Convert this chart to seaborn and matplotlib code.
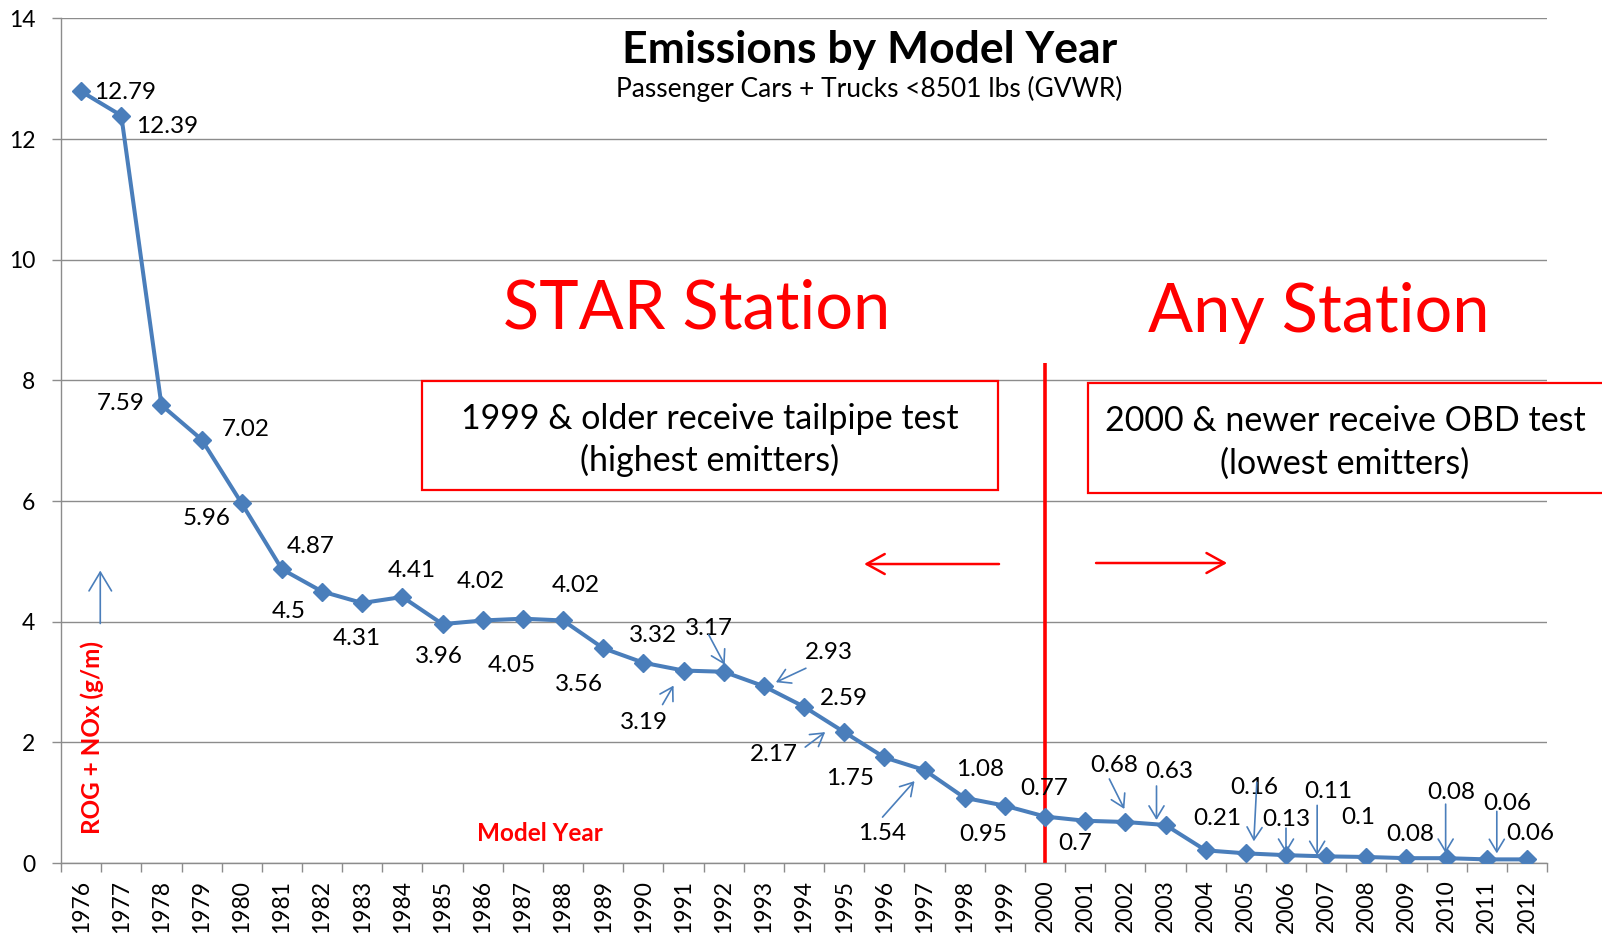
import matplotlib
matplotlib.use("Agg")
import matplotlib.pyplot as plt
import matplotlib.transforms as mtransforms
from matplotlib.patches import Rectangle
import pandas as pd
import seaborn as sns

# ROG + NOx emissions (g/m) by model year
years = list(range(1976, 2013))
emissions = [12.79, 12.39, 7.59, 7.02, 5.96, 4.87, 4.5, 4.31, 4.41, 3.96,
             4.02, 4.05, 4.02, 3.56, 3.32, 3.19, 3.17, 2.93, 2.59, 2.17,
             1.75, 1.54, 1.08, 0.95, 0.77, 0.7, 0.68, 0.63, 0.21, 0.16,
             0.13, 0.11, 0.1, 0.08, 0.08, 0.06, 0.06]
y_ticks = [0, 2, 4, 6, 8, 10, 12, 14]

# where each value label sits relative to its point (pixels, +y is up)
label_offsets = [(44, 1), (46, -9), (-41, 4), (44, 12), (-35, -13),
                 (29, 25), (-33, -18), (-5, -34), (9, 28), (-4, -30),
                 (-2, 41), (-11, -45), (13, 37), (-24, -34), (10, 29),
                 (-40, -50), (-15, 45), (65, 36), (40, 10), (-70, -20),
                 (-34, -19), (-42, -61), (15, 30), (-22, -27), (-1, 30),
                 (-10, -21), (-11, 58), (4, 55), (12, 34), (8, 68),
                 (0, 38), (2, 67), (-8, 41), (4, 26), (5, 68),
                 (20, 58), (3, 28)]

# small pointer arrows: year -> (tail offset, head offset) in pixels
pointer_arrows = {
    1991: ((-21, -34), (-10, -15)),
    1992: ((-15, 37), (1, 7)),
    1993: ((42, 18), (12, 4)),
    1995: ((-39, -15), (-19, 0)),
    1997: ((-42, -47), (-10, -11)),
    2002: ((-16, 43), (-1, 13)),
    2003: ((-9, 39), (-9, 5)),
    2005: ((11, 71), (8, 12)),
    2006: ((0, 27), (0, 2)),
    2007: ((-9, 51), (-9, 1)),
    2010: ((-1, 54), (-1, 5)),
    2011: ((10, 48), (10, 6)),
}

BLUE = "#4A7EBB"
RED = "#FF0000"
GRID = "#8C8C8C"

sns.set_style("white")
plt.rcParams["font.family"] = ["Lato", "DejaVu Sans"]
plt.rcParams["text.color"] = "black"

df = pd.DataFrame({"year": years, "emissions": emissions})

fig = plt.figure(figsize=(16.02, 9.35), dpi=100)
ax = fig.add_axes([0.0381, 0.0770, 0.9276, 0.9033])

sns.lineplot(data=df, x="year", y="emissions", ax=ax, color=BLUE,
             linewidth=2.9, marker="D", markersize=9,
             markeredgecolor=BLUE, markeredgewidth=1, zorder=3)

ax.set_xlim(years[0] - 0.5, years[-1] + 0.5)
ax.set_ylim(0, 14)
ax.set_yticks(y_ticks)
ax.set_xticks(years)
ax.set_xticklabels([str(y) for y in years], rotation=90)
ax.set_xticks([y - 0.5 for y in years] + [years[-1] + 0.5], minor=True)
ax.tick_params(axis="x", which="major", length=0, pad=12, labelsize=16.5,
               labelcolor="black")
ax.tick_params(axis="x", which="minor", length=6.5, width=1, color=GRID,
               direction="out", bottom=True)
ax.tick_params(axis="y", length=6.5, width=1, color=GRID, pad=12,
               labelsize=16.5, left=True, labelcolor="black")
ax.set_xlabel("")
ax.set_ylabel("")
ax.grid(axis="y", color=GRID, linewidth=1)
ax.grid(axis="x", visible=False)
for side in ["top", "right"]:
    ax.spines[side].set_visible(False)
for side in ["left", "bottom"]:
    ax.spines[side].set_color(GRID)
    ax.spines[side].set_linewidth(1)


def shifted(dx, dy):
    return ax.transData + mtransforms.ScaledTranslation(
        dx / fig.dpi, dy / fig.dpi, fig.dpi_scale_trans)


# value labels
for yr, val, (dx, dy) in zip(years, emissions, label_offsets):
    ax.annotate(f"{val:g}", xy=(yr, val), xytext=(dx, dy),
                textcoords="offset pixels", ha="center",
                va="center_baseline", fontsize=17.5, color="black", zorder=4)

# pointer arrows
for yr, (tail, head) in pointer_arrows.items():
    val = emissions[years.index(yr)]
    ax.annotate("", xy=(yr, val), xycoords=shifted(*head),
                xytext=(yr, val), textcoords=shifted(*tail),
                arrowprops=dict(arrowstyle="->,head_length=0.5,head_width=0.3",
                                color=BLUE, lw=1.2, mutation_scale=18,
                                shrinkA=0, shrinkB=0), zorder=4)

# titles
ax.text(0.544, 0.9468, "Emissions by Model Year", transform=ax.transAxes,
        ha="center", va="baseline", fontsize=32, fontweight="bold")
ax.text(0.544, 0.9067, "Passenger Cars + Trucks <8501 lbs (GVWR)",
        transform=ax.transAxes, ha="center", va="baseline", fontsize=19)

# station headings
ax.text(0.428, 0.6323, "STAR Station", transform=ax.transAxes, ha="center",
        va="baseline", fontsize=48, color=RED)
ax.text(0.8462, 0.6287, "Any Station", transform=ax.transAxes, ha="center",
        va="baseline", fontsize=48, color=RED)

# boxes
ax.add_patch(Rectangle((0.2429, 0.4416), 0.3877, 0.1291,
                       transform=ax.transAxes, fill=True, facecolor="white",
                       edgecolor=RED, linewidth=1.6, zorder=2))
ax.add_patch(Rectangle((0.6911, 0.4380), 0.36, 0.1303,
                       transform=ax.transAxes, fill=True, facecolor="white",
                       edgecolor=RED, linewidth=1.6, clip_on=False, zorder=2))
ax.text(0.4367, 0.5142, "1999 & older receive tailpipe test",
        transform=ax.transAxes, ha="center", va="baseline", fontsize=24.5)
ax.text(0.4367, 0.4645, "(highest emitters)", transform=ax.transAxes,
        ha="center", va="baseline", fontsize=24.5)
ax.text(0.864, 0.5118, "2000 & newer receive OBD test",
        transform=ax.transAxes, ha="center", va="baseline", fontsize=24.5)
ax.text(0.864, 0.4610, "(lowest emitters)", transform=ax.transAxes,
        ha="center", va="baseline", fontsize=24.5)

# divider at model year 2000
ax.vlines(2000, 0, 8.29, color=RED, linewidth=2.6, zorder=2.5)

red_arrow = dict(arrowstyle="->,head_length=0.65,head_width=0.36",
                 color=RED, lw=1.8, mutation_scale=20, shrinkA=0, shrinkB=0)
ax.annotate("", xy=(0.5404, 0.354), xytext=(0.6312, 0.354),
            xycoords="axes fraction", arrowprops=red_arrow)
ax.annotate("", xy=(0.7847, 0.3552), xytext=(0.6965, 0.3552),
            xycoords="axes fraction", arrowprops=red_arrow)

# axis captions
ax.annotate("", xy=(0.0264, 0.3463), xytext=(0.0264, 0.2836),
            xycoords="axes fraction",
            arrowprops=dict(arrowstyle="->,head_length=0.75,head_width=0.45",
                            color=BLUE, lw=1.2, mutation_scale=18,
                            shrinkA=0, shrinkB=0))
ax.text(0.0209, 0.149, "ROG + NOx (g/m)", transform=ax.transAxes,
        rotation=90, ha="center", va="center", fontsize=17.5,
        fontweight="bold", color=RED)
ax.text(0.322, 0.0355, "Model Year", transform=ax.transAxes, ha="center",
        va="center", fontsize=17.5, fontweight="bold", color=RED)

fig.savefig("out.png", dpi=100)
